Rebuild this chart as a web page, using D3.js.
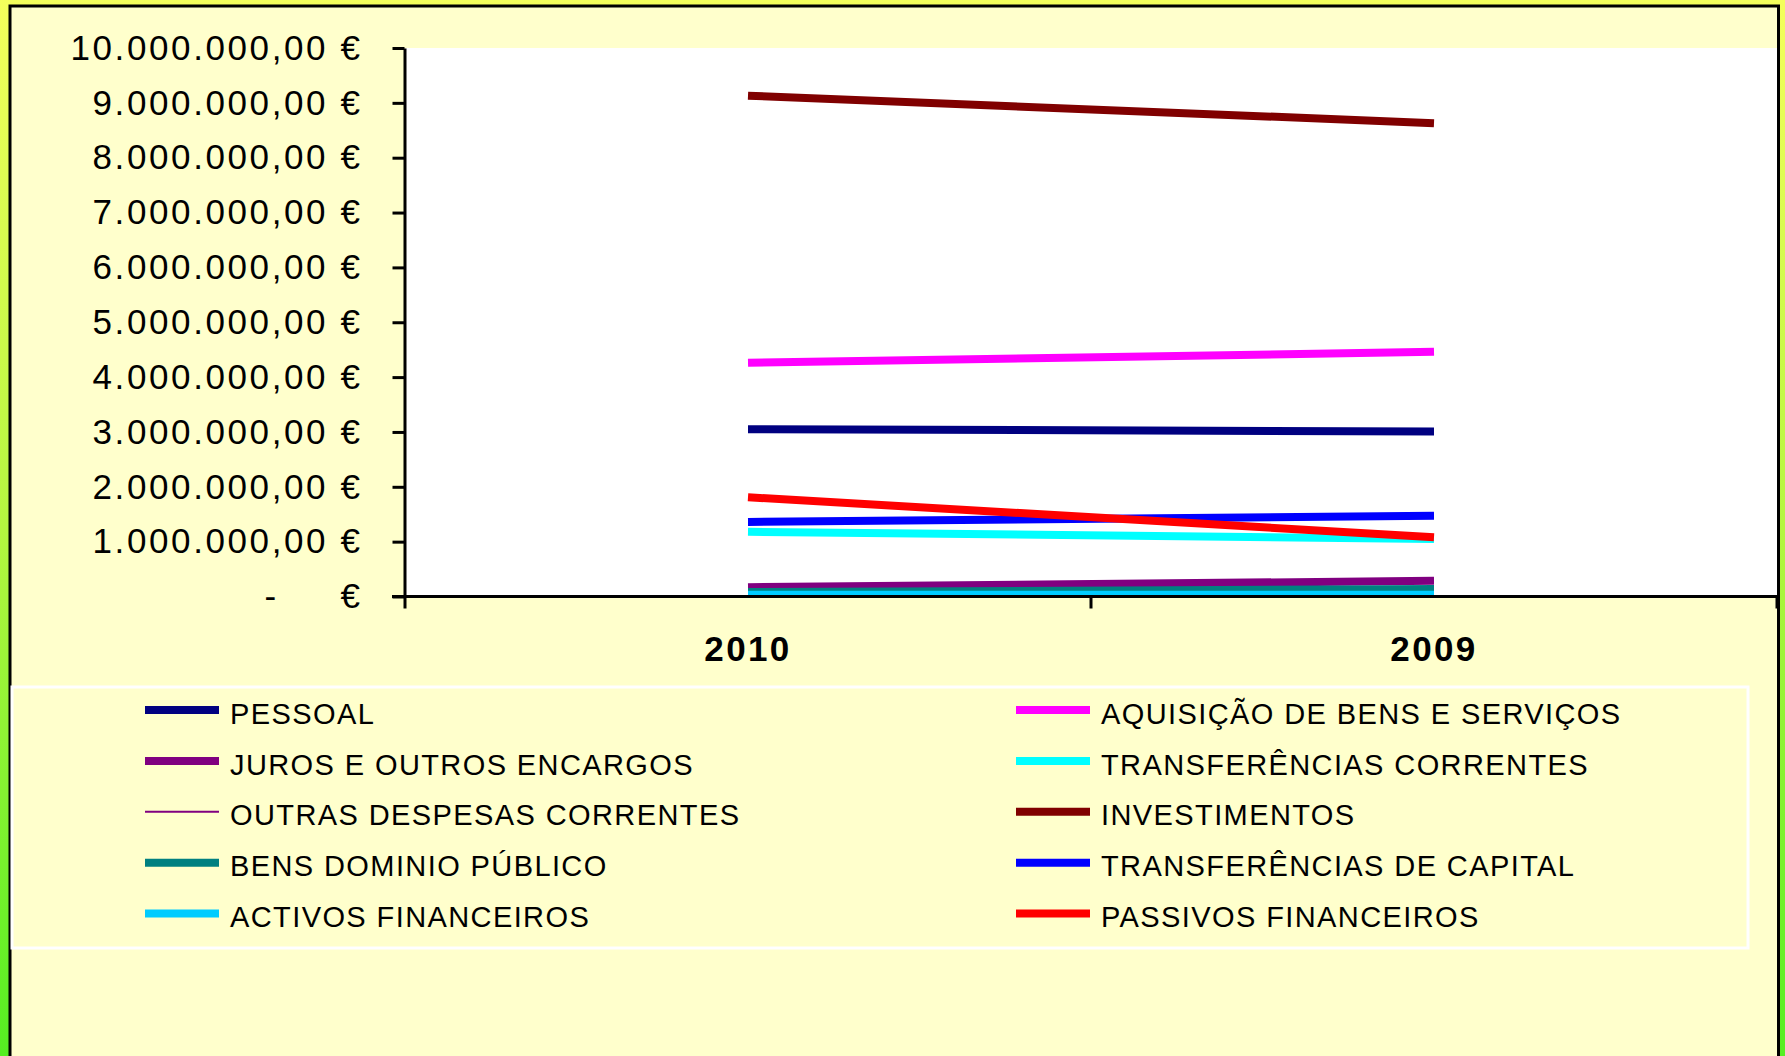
<!DOCTYPE html>
<html>
<head>
<meta charset="utf-8">
<script src="https://cdn.jsdelivr.net/npm/d3@7"></script>
<style>
    body { margin: 0; background: #ffffcc; }
    text { font-family: "Liberation Sans", Arial, sans-serif; fill: #000; }
</style>
</head>
<body>
<div id="chart"></div>
<script>
// categories (x axis)
var years = ["2010", "2009"];

// one small array per series (euros)
var pessoal = [3050000, 3010000];
var aquisicao = [4260000, 4460000];
var juros = [170000, 285000];
var transfCorrentes = [1180000, 1050000];
var outrasDespesas = [50000, 60000];
var investimentos = [9130000, 8630000];
var bensDominio = [80000, 137000];
var transfCapital = [1360000, 1470000];
var activos = [30000, 30000];
var passivos = [1810000, 1080000];

var seriesNames = [
    "PESSOAL", "AQUISIÇÃO DE BENS E SERVIÇOS",
    "JUROS E OUTROS ENCARGOS", "TRANSFERÊNCIAS CORRENTES",
    "OUTRAS DESPESAS CORRENTES", "INVESTIMENTOS",
    "BENS DOMINIO PÚBLICO", "TRANSFERÊNCIAS DE CAPITAL",
    "ACTIVOS FINANCEIROS", "PASSIVOS FINANCEIROS"
];
var seriesValues = [pessoal, aquisicao, juros, transfCorrentes, outrasDespesas,
    investimentos, bensDominio, transfCapital, activos, passivos];
var seriesColors = ["#000080", "#ff00ff", "#800080", "#00ffff", "#800080",
    "#800000", "#008080", "#0000ff", "#00ccff", "#ff0000"];
var seriesWidths = [8, 8, 8, 8, 2, 8, 8, 8, 8, 8];

var yTicks = [0, 1000000, 2000000, 3000000, 4000000, 5000000,
    6000000, 7000000, 8000000, 9000000, 10000000];

var width = 1785, height = 1056;
var plot = { left: 405, right: 1777, top: 48, bottom: 596.5 };

var svg = d3.select("#chart").append("svg")
    .attr("width", width)
    .attr("height", height);

// outer gradient (yellow at top to green at bottom)
var defs = svg.append("defs");
var grad = defs.append("linearGradient")
    .attr("id", "bg").attr("x1", 0).attr("y1", 0).attr("x2", 0).attr("y2", 1);
grad.append("stop").attr("offset", "0%").attr("stop-color", "#f4ff5c");
grad.append("stop").attr("offset", "50%").attr("stop-color", "#b4f640");
grad.append("stop").attr("offset", "100%").attr("stop-color", "#55ee22");

defs.append("clipPath").attr("id", "plotClip")
    .append("rect")
    .attr("x", plot.left).attr("y", plot.top)
    .attr("width", plot.right - plot.left)
    .attr("height", plot.bottom - plot.top);

svg.append("rect").attr("width", width).attr("height", height).attr("fill", "url(#bg)");

// chart frame
svg.append("rect")
    .attr("x", 10).attr("y", 6)
    .attr("width", 1768.5).attr("height", 1060)
    .attr("fill", "#ffffcc")
    .attr("stroke", "#000")
    .attr("stroke-width", 3);

// white plot area
svg.append("rect")
    .attr("x", plot.left).attr("y", plot.top)
    .attr("width", plot.right - plot.left)
    .attr("height", plot.bottom - plot.top)
    .attr("fill", "#fff");

var x = d3.scaleBand().domain(years).range([plot.left, plot.right]);
var y = d3.scaleLinear().domain([0, 10000000]).range([plot.bottom, plot.top]);

// lines
var line = d3.line()
    .x(function (d, i) { return x(years[i]) + x.bandwidth() / 2; })
    .y(function (d) { return y(d); });

svg.append("g").attr("clip-path", "url(#plotClip)")
    .selectAll("path")
    .data(seriesValues)
    .enter()
    .append("path")
        .attr("d", function (d) { return line(d); })
        .attr("fill", "none")
        .attr("stroke", function (d, i) { return seriesColors[i]; })
        .attr("stroke-width", function (d, i) { return seriesWidths[i]; });

// y axis with portuguese money format
var pt = d3.formatLocale({ decimal: ",", thousands: ".", grouping: [3], currency: ["", " €"] });
var fmt = pt.format(",.2f");

var yAxis = d3.axisLeft(y)
    .tickValues(yTicks)
    .tickSize(12)
    .tickSizeOuter(0)
    .tickPadding(30)
    .tickFormat(function (d) {
        if (d === 0) return "-\u00a0\u00a0\u00a0\u00a0\u00a0€";
        return fmt(d) + " €";
    });

var gy = svg.append("g")
    .attr("transform", "translate(" + (plot.left - 0.5) + ",0)")
    .call(yAxis);
gy.selectAll("text")
    .style("font-size", "35px")
    .style("letter-spacing", "2.6px");

// x axis: labels at band centres, tick marks at band edges
var xAxis = d3.axisBottom(x).tickSize(0).tickPadding(40);
var gx = svg.append("g")
    .attr("transform", "translate(0," + plot.bottom + ")")
    .call(xAxis);
gx.select(".domain").remove();
gx.selectAll("text")
    .style("font-size", "35px")
    .style("font-weight", "bold")
    .style("letter-spacing", "2.4px");

var edges = years.map(function (d) { return x(d); }).concat([x(years[years.length - 1]) + x.bandwidth()]);
svg.append("line")
    .attr("x1", plot.left - 13).attr("x2", plot.right)
    .attr("y1", plot.bottom).attr("y2", plot.bottom)
    .attr("stroke", "#000").attr("stroke-width", 3);
svg.selectAll(".xtick")
    .data(edges)
    .enter()
    .append("line")
        .attr("class", "xtick")
        .attr("x1", function (d) { return d; })
        .attr("x2", function (d) { return d; })
        .attr("y1", plot.bottom)
        .attr("y2", plot.bottom + 12)
        .attr("stroke", "#000")
        .attr("stroke-width", 3);

gy.selectAll("line, path").attr("stroke-width", 3);

// legend
svg.append("rect")
    .attr("x", 12).attr("y", 687)
    .attr("width", 1736).attr("height", 261)
    .attr("fill", "none")
    .attr("stroke", "#fff")
    .attr("stroke-width", 3);

var legend = svg.selectAll(".legend")
    .data(seriesNames)
    .enter()
    .append("g")
        .attr("class", "legend")
        .attr("transform", function (d, i) {
            var col = i % 2, row = Math.floor(i / 2);
            return "translate(" + (col === 0 ? 145 : 1016) + "," + (710 + row * 50.9) + ")";
        });

legend.append("line")
    .attr("x1", 0).attr("x2", 74)
    .attr("stroke", function (d, i) { return seriesColors[i]; })
    .attr("stroke-width", function (d, i) { return seriesWidths[i]; });

legend.append("text")
    .attr("x", 85)
    .attr("dy", "0.47em")
    .style("font-size", "29px")
    .style("letter-spacing", "1.4px")
    .text(function (d) { return d; });
</script>
</body>
</html>
